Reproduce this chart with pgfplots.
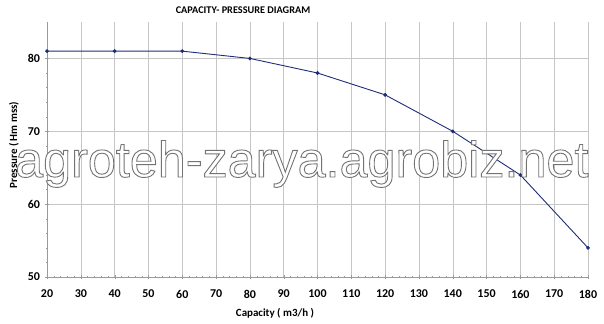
\documentclass[border=0pt]{standalone}
\usepackage{pgfplots}
\pgfplotsset{compat=1.18}
\usepackage{fontspec}
\setmainfont{Carlito}
\newfontfamily\wmfont{Liberation Sans}
\definecolor{navy}{RGB}{30,45,120}
\begin{document}
\begin{tikzpicture}
\useasboundingbox (-47bp,-47bp) rectangle (557bp,277bp);
\begin{axis}[
  scale only axis, width=541bp, height=255bp,
  at={(0,0)}, anchor=south west,
  xmin=20, xmax=180, ymin=50, ymax=85,
  xtick={20,30,...,180}, ytick={50,60,70,80},
  minor x tick num=4, minor y tick num=4,
  axis x line*=bottom, axis y line*=left,
  axis line style={gray!80, line width=0.6pt},
  grid=major, major grid style={gray!45, line width=0.5pt},
  tick style={gray!80}, major tick length=3bp, minor tick length=2bp,
  tick align=center,
  ticklabel style={font=\fontsize{12}{12}\selectfont\bfseries},
  /pgf/number format/assume math mode=true,
  xticklabel style={yshift=-8bp},
  yticklabel style={xshift=-2bp},
  clip=false,
]
\addplot[navy, line width=0.9pt, mark=*, mark size=1.4pt, mark options={fill=navy}]
coordinates {(20,81) (40,81) (60,81) (80,80) (100,78) (120,75) (140,70) (160,64) (180,54)};
\end{axis}
\node[font=\fontsize{10.3}{10.3}\selectfont\bfseries] at (196bp,267bp) {CAPACITY- PRESSURE DIAGRAM};
\node[font=\fontsize{11}{11}\selectfont\bfseries] at (228bp,-36bp) {Capacity ( m3/h )};
\node[font=\fontsize{11}{11}\selectfont\bfseries, rotate=90] at (-33bp,132bp) {Pressure ( Hm mss)};
% watermark: white letters with grey outline
\node[font=\wmfont\fontsize{50.5}{50.5}\selectfont, anchor=base west, inner sep=0pt] at (-32bp,100bp)
  {\color{white}\special{pdf:literal direct 2 Tr 0.9 w 0.45 G}agroteh-zarya.agrobiz.net\special{pdf:literal direct 0 Tr}};
\end{tikzpicture}
\end{document}
